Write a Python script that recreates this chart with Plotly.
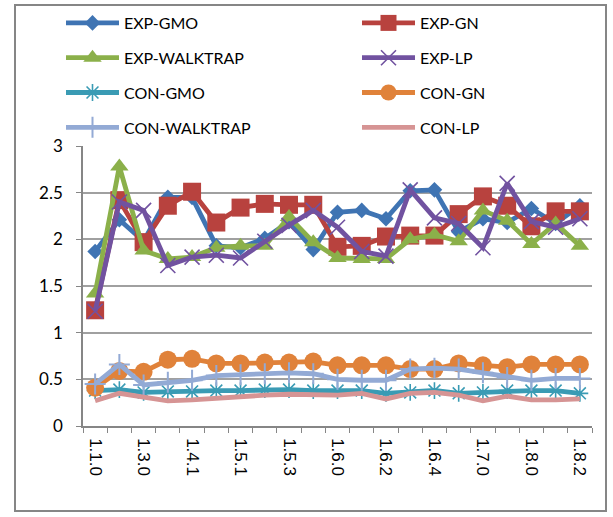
import plotly.graph_objects as go

versions = ["1.1.0", "1.2.0", "1.3.0", "1.4.0", "1.4.1", "1.5.0", "1.5.1", "1.5.2",
            "1.5.3", "1.5.4", "1.6.0", "1.6.1", "1.6.2", "1.6.3", "1.6.4", "1.6.5",
            "1.7.0", "1.7.1", "1.8.0", "1.8.1", "1.8.2"]

exp_gmo = [1.87, 2.21, 1.98, 2.45, 2.45, 1.93, 1.91, 2.01, 2.19, 1.89, 2.29, 2.31, 2.22, 2.52,
           2.53, 2.08, 2.22, 2.18, 2.33, 2.17, 2.36]
exp_gn = [1.24, 2.42, 1.97, 2.36, 2.51, 2.18, 2.34, 2.38, 2.37, 2.37, 1.92, 1.93, 2.03, 2.04,
          2.04, 2.27, 2.46, 2.36, 2.14, 2.30, 2.30]
exp_walktrap = [1.42, 2.78, 1.88, 1.79, 1.81, 1.91, 1.93, 1.93, 2.24, 1.97, 1.80, 1.79, 1.79,
                2.00, 2.05, 1.98, 2.31, 2.20, 1.95, 2.17, 1.93]
exp_lp = [1.23, 2.40, 2.31, 1.72, 1.81, 1.83, 1.80, 1.98, 2.15, 2.31, 2.13, 1.87, 1.82, 2.53,
          2.23, 2.17, 1.91, 2.60, 2.19, 2.13, 2.22]
con_gmo = [0.38, 0.39, 0.36, 0.37, 0.37, 0.38, 0.38, 0.39, 0.39, 0.38, 0.38, 0.38, 0.35, 0.36,
           0.38, 0.35, 0.36, 0.38, 0.38, 0.38, 0.35]
con_gn = [0.41, 0.59, 0.58, 0.71, 0.72, 0.67, 0.67, 0.68, 0.68, 0.69, 0.65, 0.65, 0.65, 0.61,
          0.61, 0.67, 0.65, 0.63, 0.66, 0.66, 0.66]
con_walktrap = [0.45, 0.66, 0.44, 0.47, 0.49, 0.54, 0.55, 0.56, 0.57, 0.56, 0.50, 0.49, 0.49,
                0.61, 0.62, 0.61, 0.57, 0.52, 0.49, 0.51, 0.51]
con_lp = [0.27, 0.35, 0.31, 0.27, 0.28, 0.30, 0.32, 0.33, 0.34, 0.34, 0.33, 0.35, 0.29, 0.35,
          0.36, 0.33, 0.27, 0.32, 0.28, 0.28, 0.29]

series = [
    ("EXP-GMO", exp_gmo, "#3F74B3", dict(symbol="diamond", size=12), "legend"),
    ("EXP-GN", exp_gn, "#B8423E", dict(symbol="square", size=18), "legend2"),
    ("EXP-WALKTRAP", exp_walktrap, "#8BB04A", dict(symbol="triangle-up", size=16), "legend"),
    ("EXP-LP", exp_lp, "#7152A0", dict(symbol="x-thin", size=15, line=dict(width=1.6, color="#7152A0")), "legend2"),
    ("CON-GMO", con_gmo, "#3A9BB4", dict(symbol="asterisk", size=14, line=dict(width=1.6, color="#3A9BB4")), "legend"),
    ("CON-GN", con_gn, "#E0823A", dict(symbol="circle", size=18), "legend2"),
    ("CON-WALKTRAP", con_walktrap, "#93AAD5", dict(symbol="cross-thin", size=15, line=dict(width=2, color="#93AAD5")), "legend"),
    ("CON-LP", con_lp, "#D69494", None, "legend2"),
]

fig = go.Figure()
for i, (name, vals, color, mk, leg) in enumerate(series):
    kw = dict(x=versions, y=vals, name=name, legend=leg, legendgroup=name,
              line=dict(color=color, width=4.8))
    if mk is None:
        kw["mode"] = "lines"
    else:
        m = dict(color=color)
        m.update(mk)
        kw["mode"] = "lines+markers"
        kw["marker"] = m
    fig.add_trace(go.Scatter(**kw))

font = dict(family="Lato, 'Liberation Sans', Arial, sans-serif", size=16, color="#000000")
leg_common = dict(orientation="v", traceorder="grouped", tracegroupgap=11, font=font,
                  bgcolor="rgba(0,0,0,0)", xanchor="left", yanchor="top", itemwidth=53,
                  xref="container", yref="container", y=1 - 6 / 517)

fig.update_layout(
    width=613, height=517,
    margin=dict(l=83, r=21, t=146, b=91, autoexpand=False),
    paper_bgcolor="white", plot_bgcolor="white",
    font=font,
    showlegend=True,
    legend=dict(x=61 / 613, **leg_common),
    legend2=dict(x=357 / 613, **leg_common),
    xaxis=dict(type="category", range=[-0.5, 20.5], tickmode="array", tickvals=versions,
               ticktext=[v if i % 2 == 0 else "" for i, v in enumerate(versions)],
               tickson="boundaries", ticks="outside", ticklen=5, tickcolor="#868686",
               tickangle=90, showgrid=False, showline=True, linecolor="#868686", linewidth=1.5,
               automargin=False, ticklabelstandoff=7,
               tickfont=dict(family="Liberation Sans, Arial, sans-serif", size=17)),
    yaxis=dict(range=[0, 3], dtick=0.5, tick0=0, showgrid=True, gridcolor="#A0A0A0", gridwidth=1.5,
               zeroline=False, showline=True, linecolor="#868686", linewidth=1.5,
               ticks="outside", ticklen=5, tickcolor="#868686", ticklabelstandoff=10,
               automargin=False,
               tickfont=dict(family="Lato, 'Liberation Sans', Arial, sans-serif", size=17)),
    shapes=[dict(type="rect", xref="paper", yref="paper",
                 x0=(15 - 83) / 509, x1=(606 - 83) / 509,
                 y0=(426 - 511) / 280, y1=(426 - 5) / 280,
                 line=dict(color="#868686", width=2), fillcolor="rgba(0,0,0,0)", layer="below")],
)

fig.write_html("out.html", config={"displayModeBar": False},
               post_script="document.body.style.margin='0';document.body.style.padding='0';")
